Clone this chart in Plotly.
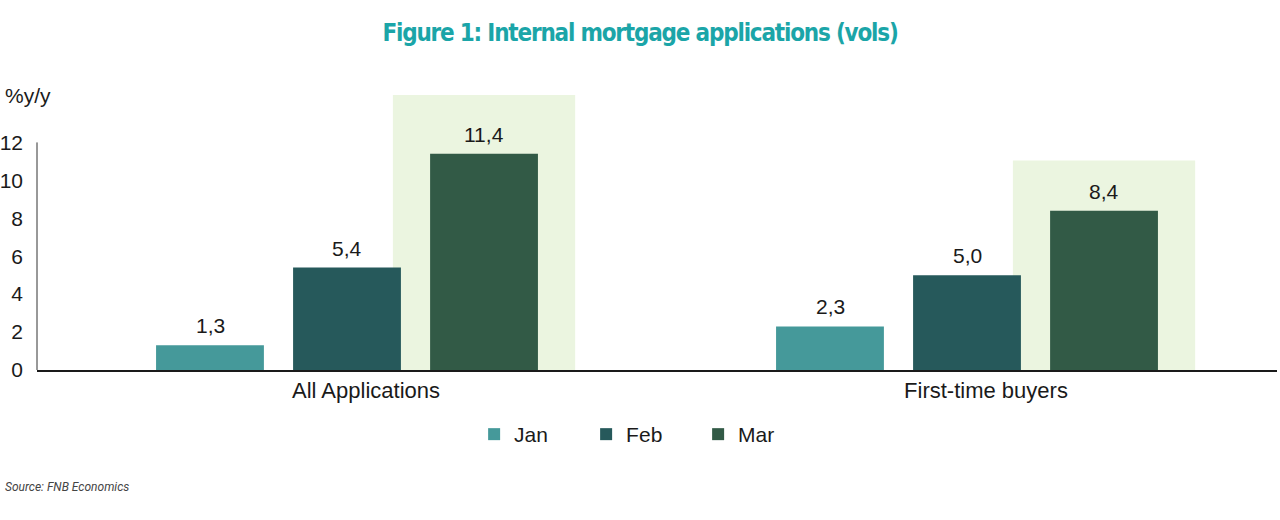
import plotly.graph_objects as go

# data
categories = ["All Applications", "First-time buyers"]
months = ["Jan", "Feb", "Mar"]
jan = [1.3, 2.3]
feb = [5.4, 5.0]
mar = [11.4, 8.4]
series = [jan, feb, mar]
colors = ["#45999a", "#26595b", "#325a46"]

# light green highlight boxes behind the latest month (top value per group)
highlight_top = [14.5, 11.05]

FONT = "Liberation Sans, Arial"
slot = 137  # px between bar centres within a group

fig = go.Figure()
for name, vals, col in zip(months, series, colors):
    fig.add_trace(go.Bar(
        name=name, x=categories, y=vals,
        marker=dict(color=col, line=dict(width=0)),
    ))

# value labels above each bar
annotations = []
for i, vals in enumerate(series):
    for cat, v in zip(categories, vals):
        annotations.append(dict(
            x=cat, y=v, xref="x", yref="y", text=f"{v:.1f}".replace(".", ","),
            showarrow=False, xanchor="center", yanchor="bottom",
            xshift=(i - 1) * slot, yshift=6,
            font=dict(family=FONT, size=21, color="#1a1a1a"),
        ))

# highlight rectangles around the Mar bar of each group
for i, top in enumerate(highlight_top):
    fig.add_shape(type="rect", xref="x", yref="y",
                  x0=i + 0.074, x1=i + 0.368, y0=0, y1=top,
                  fillcolor="#ebf5e0", line=dict(width=0), layer="below")

# short vertical axis line (0 to 12 only)
fig.add_shape(type="line", xref="paper", yref="y", x0=0, x1=0, y0=0, y1=12,
              line=dict(color="#333333", width=1))

annotations += [
    dict(text="%y/y", xref="paper", yref="paper", x=-0.0274, y=1.0,
         xanchor="left", yanchor="middle", showarrow=False,
         font=dict(family=FONT, size=21, color="#1a1a1a")),
    dict(text="<i>Source: FNB Economics</i>", xref="paper", yref="paper",
         x=-0.0274, y=-0.425, xanchor="left", yanchor="middle", showarrow=False,
         font=dict(family="Roboto", size=12, color="#444444")),
]

fig.update_layout(
    width=1280, height=520,
    margin=dict(l=37, r=3, t=95, b=150, autoexpand=False),
    paper_bgcolor="white", plot_bgcolor="white",
    barmode="group", bargap=0.337, bargroupgap=0.213,
    font=dict(family=FONT, size=21, color="#1a1a1a"),
    title=dict(text="<b><span style='letter-spacing:-1.2px'>Figure 1: Internal mortgage applications (vols)</span></b>",
               x=0.5, xanchor="center", y=0.937, yanchor="middle",
               font=dict(family="DejaVu Sans Condensed", size=24, color="#1ba5a8")),
    showlegend=True,
    legend=dict(orientation="h", x=0.488, xanchor="center", y=-0.16, yanchor="top",
                entrywidth=67, entrywidthmode="pixels",
                font=dict(family=FONT, size=21, color="#1a1a1a"),
                traceorder="normal"),
    annotations=annotations,
)

fig.update_xaxes(showline=True, linecolor="#1a1a1a", linewidth=1.5,
                 ticks="", showgrid=False, automargin=False,
                 ticklabelshift=19, tickfont=dict(size=22))
fig.update_yaxes(range=[0, 14.5], tickvals=[0, 2, 4, 6, 8, 10, 12],
                 showline=False, showgrid=False, zeroline=False, ticks="",
                 automargin=False, ticklabelstandoff=13,
                 tickfont=dict(size=21))

# drop the default 8px page margin so the figure sits at the window's corner
fig.write_html("out.html", config={"displayModeBar": False},
               post_script="document.body.style.margin='0';")
